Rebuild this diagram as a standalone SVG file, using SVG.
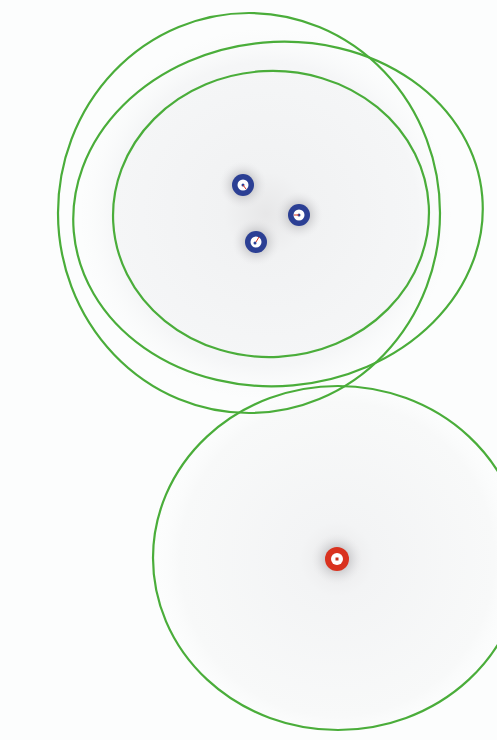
<svg xmlns="http://www.w3.org/2000/svg" width="497" height="740" viewBox="0 0 497 740">
<style>
.ring{fill:none;stroke:#4aad3a;stroke-width:2.2}
.blue{fill:#2b3f94}
.red{fill:#d9321f}
.hole{fill:#ffffff}
</style>
<defs>
<radialGradient id="gTop" cx="266" cy="214" r="190" gradientUnits="userSpaceOnUse">
<stop offset="0" stop-color="#e7e7e8"/>
<stop offset="0.22" stop-color="#f1f2f3"/>
<stop offset="0.8" stop-color="#f5f6f7"/>
<stop offset="1" stop-color="#fbfcfc" stop-opacity="0"/>
</radialGradient>
<radialGradient id="gBot" cx="337" cy="559" r="185" gradientUnits="userSpaceOnUse">
<stop offset="0" stop-color="#e9e9ea"/>
<stop offset="0.2" stop-color="#f3f4f5"/>
<stop offset="0.85" stop-color="#f8f9f9"/>
<stop offset="1" stop-color="#fcfdfd" stop-opacity="0"/>
</radialGradient>
<radialGradient id="halo">
<stop offset="0.4" stop-color="#b9b9bc" stop-opacity="0.7"/>
<stop offset="1" stop-color="#e8e8ea" stop-opacity="0"/>
</radialGradient>
</defs>
<rect width="497" height="740" fill="#fcfdfd"/>
<ellipse cx="266" cy="214" rx="185" ry="185" fill="url(#gTop)"/>
<ellipse cx="337" cy="559" rx="185" ry="172" fill="url(#gBot)"/>
<g id="connectors">
<ellipse id="e1" class="ring" cx="249" cy="213" rx="191" ry="200"/>
<ellipse id="e2" class="ring" cx="278" cy="214" rx="205" ry="172" transform="rotate(-5 278 214)"/>
<ellipse id="e3" class="ring" cx="271" cy="214" rx="158" ry="143" transform="rotate(-3 271 214)"/>
<ellipse id="e4" class="ring" cx="338" cy="558" rx="185" ry="172"/>
</g>
<g id="node1">
<circle cx="243" cy="185" r="24" fill="url(#halo)"/>
<circle class="blue" cx="243" cy="185" r="11"/>
<circle class="hole" cx="243" cy="185" r="5.5"/>
<circle cx="243" cy="185" r="1.5" fill="#2b3f94"/>
<line x1="243" y1="185" x2="246" y2="189" stroke="#d9321f" stroke-width="1"/>
</g>
<g id="node2">
<circle cx="299" cy="215" r="24" fill="url(#halo)"/>
<circle class="blue" cx="299" cy="215" r="11"/>
<circle class="hole" cx="299" cy="215" r="5.5"/>
<circle cx="299" cy="215" r="1.5" fill="#2b3f94"/>
<line x1="299" y1="215" x2="294" y2="215" stroke="#d9321f" stroke-width="1"/>
</g>
<g id="node3">
<circle cx="256" cy="242" r="24" fill="url(#halo)"/>
<circle class="blue" cx="256" cy="242" r="11"/>
<circle class="hole" cx="256" cy="242" r="5.5"/>
<circle cx="255" cy="243" r="1.5" fill="#2b3f94"/>
<line x1="256" y1="242" x2="259" y2="237" stroke="#d9321f" stroke-width="1"/>
</g>
<g id="node4">
<circle cx="337" cy="559" r="26" fill="url(#halo)"/>
<circle class="red" cx="337" cy="559" r="12"/>
<circle class="hole" cx="337" cy="559" r="6"/>
<rect x="335.5" y="557.5" width="3" height="3" fill="#c8301c"/>
</g>
</svg>
